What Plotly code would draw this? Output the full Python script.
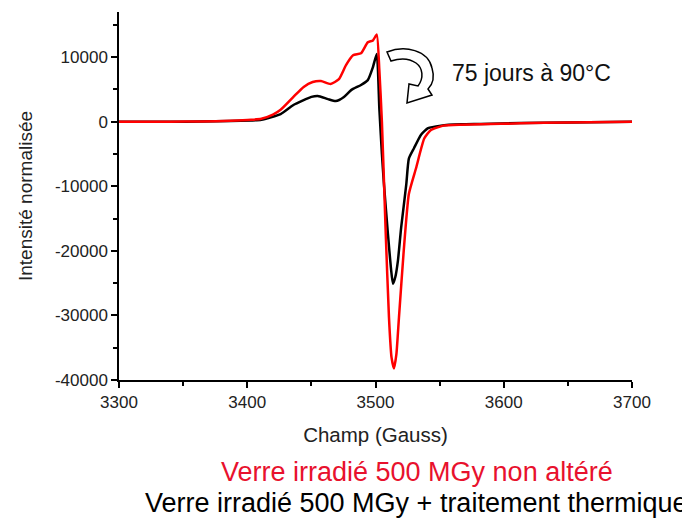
import plotly.graph_objects as go

# Field (Gauss) and normalised intensity
red_x = [3300, 3340, 3364, 3387, 3403, 3411, 3420, 3426, 3436, 3444, 3451, 3457.5,
         3465, 3471.5, 3477, 3482.5, 3488.7, 3494, 3498, 3501, 3503, 3505, 3508,
         3510.5, 3512.5, 3514.4, 3516.3, 3518.3, 3522, 3526, 3531.6, 3538, 3543,
         3553, 3567, 3582, 3613, 3650, 3700]
red_y = [0, 0, 50, 150, 300, 460, 1100, 1850, 3850, 5400, 6150, 6300,
         5850, 6600, 8770, 10300, 10600, 12300, 12600, 13500, 8000, 0, -17400,
         -30300, -36500, -38200, -36000, -30300, -20000, -11200, -7200, -2600, -1300,
         -600, -460, -400, -250, -100, 0]

black_x = [3300, 3340, 3364, 3387, 3403, 3411, 3426, 3436, 3450, 3455, 3463, 3469,
           3475.4, 3481, 3488.7, 3494, 3498, 3501, 3503, 3505, 3506.6, 3509.7, 3512,
           3513.6, 3515.5, 3517.5, 3520, 3524, 3526, 3530, 3535.5, 3541, 3551, 3567,
           3582, 3613, 3650, 3700]
black_y = [0, 0, 30, 100, 200, 300, 1200, 2600, 3850, 4000, 3500, 3200,
           3850, 4900, 5700, 6450, 8460, 10500, 2000, -5000, -9700, -17400, -22600,
           -25100, -24000, -21500, -16400, -9700, -5700, -4100, -2000, -1000, -600, -400,
           -350, -200, -100, 0]

x_ticks = [3300, 3400, 3500, 3600, 3700]
y_ticks = [-40000, -30000, -20000, -10000, 0, 10000]
y_ticktext = ["-40000", "-30000", "-20000", "-10000", "0", "10000"]

x_title = "Champ (Gauss)"
y_title = "Intensité normalisée"
note_text = "75 jours à 90°C"
red_label = "Verre irradié 500 MGy non altéré"
black_label = "Verre irradié 500 MGy + traitement thermique"

FONT = "Liberation Sans, Arial, sans-serif"

fig = go.Figure()
fig.add_trace(go.Scatter(x=black_x, y=black_y, mode="lines",
                         line=dict(color="#000000", width=2.5, shape="spline", smoothing=0.5),
                         showlegend=False, hoverinfo="skip"))
fig.add_trace(go.Scatter(x=red_x, y=red_y, mode="lines",
                         line=dict(color="#ff0000", width=2.5, shape="spline", smoothing=0.5),
                         showlegend=False, hoverinfo="skip"))

# plot area in reference-picture pixels (for decorative placement)
L, R, T, B = 119, 632, 12, 380
OFF = 8  # page body margin of the html
W, H = 690 - OFF, 519 - OFF


def px(xp, yp):
    return (xp - L) / (R - L), (B - yp) / (B - T)


arrow_pts = [
    ("M", [(387, 52)]),
    ("C", [(405, 45), (428, 50), (432, 68)]),
    ("C", [(435, 78), (432, 85), (428, 89)]),
    ("L", [(432, 95)]),
    ("L", [(407, 103)]),
    ("L", [(409, 84)]),
    ("L", [(418, 86)]),
    ("C", [(424, 78), (423, 68), (416, 63)]),
    ("C", [(409, 58), (400, 58), (391, 61)]),
]
path = ""
for cmd, pts in arrow_pts:
    path += cmd + " " + " ".join("%.5f,%.5f" % px(a, b) for a, b in pts) + " "
path += "Z"

fig.add_shape(type="path", path=path, xref="paper", yref="paper",
              fillcolor="white", line=dict(color="black", width=1.5))

fig.add_annotation(text=note_text, xref="paper", yref="paper",
                   x=px(531, 73)[0], y=px(531, 73)[1], showarrow=False,
                   font=dict(family=FONT, size=23, color="#111111"),
                   xanchor="center", yanchor="middle")
fig.add_annotation(text=red_label, xref="paper", yref="paper",
                   x=px(417, 472)[0], y=px(417, 472)[1], showarrow=False,
                   font=dict(family=FONT, size=27, color="#e8112d"),
                   xanchor="center", yanchor="middle")
fig.add_annotation(text=black_label, xref="paper", yref="paper",
                   x=px(416, 503)[0], y=px(416, 503)[1], showarrow=False,
                   font=dict(family=FONT, size=27, color="#000000"),
                   xanchor="center", yanchor="middle")

fig.update_layout(
    width=W, height=H,
    margin=dict(l=L - OFF, r=W - (R - OFF), t=T - OFF, b=H - (B - OFF), autoexpand=False),
    paper_bgcolor="white", plot_bgcolor="white",
    font=dict(family=FONT, color="#222222"),
    showlegend=False,
)
fig.update_xaxes(range=[3300, 3700], tickvals=x_ticks, showgrid=False, zeroline=False,
                 showline=True, linecolor="black", linewidth=1.5,
                 ticks="outside", ticklen=6, tickwidth=1.5, tickcolor="black",
                 minor=dict(dtick=50, ticks="outside", ticklen=4, tickwidth=1.5, tickcolor="black", showgrid=False),
                 tickfont=dict(size=17, family=FONT, color="#222222"),
                 title=dict(text=x_title, font=dict(size=20.5, family=FONT, color="#222222"), standoff=16))
fig.update_yaxes(range=[-40000, 17000], tickvals=y_ticks, ticktext=y_ticktext,
                 showgrid=False, zeroline=False,
                 showline=True, linecolor="black", linewidth=1.5,
                 ticks="outside", ticklen=6, tickwidth=1.5, tickcolor="black",
                 minor=dict(dtick=5000, ticks="outside", ticklen=4, tickwidth=1.5, tickcolor="black", showgrid=False),
                 tickfont=dict(size=17, family=FONT, color="#222222"),
                 title=dict(text=y_title, font=dict(size=19, family=FONT, color="#222222"), standoff=17))

fig.write_html("out.html")
